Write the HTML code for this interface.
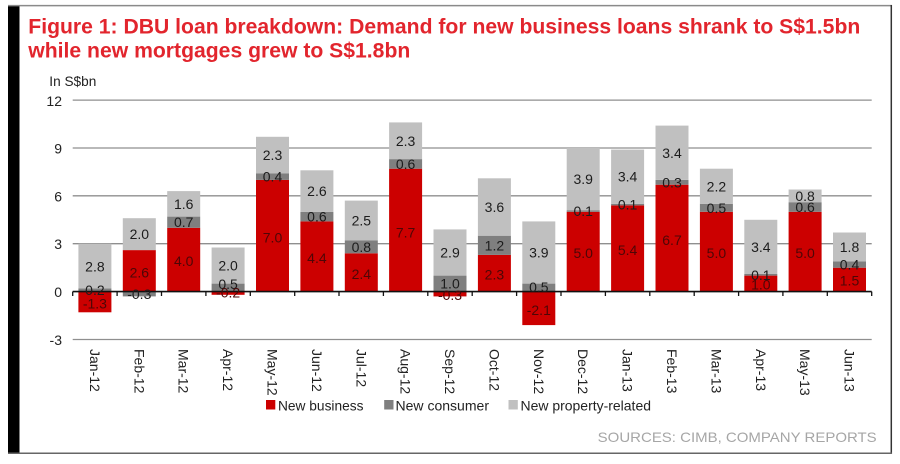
<!DOCTYPE html>
<html>
<head>
<meta charset="utf-8">
<style>
  html, body { margin: 0; padding: 0; background: #fff; }
  body { width: 900px; height: 464px; overflow: hidden; }
  svg { display: block; }
  text { font-family: "Liberation Sans", Arial, sans-serif; }
</style>
</head>
<body>
<svg width="900" height="464" viewBox="0 0 900 464" xmlns="http://www.w3.org/2000/svg">
  <rect x="0" y="0" width="900" height="464" fill="#fff"/>
  <!-- frame -->
  <rect x="8" y="5" width="11.5" height="448.5" fill="#000"/>
  <line x1="8" y1="5.6" x2="892" y2="5.6" stroke="#8a8a8a" stroke-width="1.5"/>
  <line x1="891.3" y1="5" x2="891.3" y2="454" stroke="#333" stroke-width="1.5"/>
  <line x1="8" y1="453.3" x2="892" y2="453.3" stroke="#666" stroke-width="1.5"/>

  <!-- title -->
  <text x="28.3" y="33.3" font-size="21" font-weight="bold" fill="#e2252d" textLength="832" lengthAdjust="spacingAndGlyphs">Figure 1: DBU loan breakdown: Demand for new business loans shrank to S$1.5bn</text>
  <text x="28.3" y="57.3" font-size="21" font-weight="bold" fill="#e2252d" textLength="382" lengthAdjust="spacingAndGlyphs">while new mortgages grew to S$1.8bn</text>

  <text x="49.3" y="86" font-size="13.5" fill="#222" textLength="47" lengthAdjust="spacingAndGlyphs">In S$bn</text>

  <!-- gridlines -->
  <g stroke="#8f8f8f" stroke-width="1.3">
    <line x1="72.7" y1="100.1" x2="871.7" y2="100.1"/>
    <line x1="72.7" y1="148.0" x2="871.7" y2="148.0"/>
    <line x1="72.7" y1="195.8" x2="871.7" y2="195.8"/>
    <line x1="72.7" y1="243.7" x2="871.7" y2="243.7"/>
    <line x1="72.7" y1="339.5" x2="871.7" y2="339.5"/>
  </g>

  <!-- y labels -->
  <g font-size="14" fill="#222" text-anchor="end">
    <text x="62" y="106">12</text>
    <text x="62" y="153.5">9</text>
    <text x="62" y="201.3">6</text>
    <text x="62" y="249.2">3</text>
    <text x="62" y="297">0</text>
    <text x="62" y="345">-3</text>
  </g>

  <!-- bars -->
  <g>
    <!-- Jan-12 -->
    <rect x="78.4" y="291.6" width="33" height="20.7" fill="#cc0000"/>
    <rect x="78.4" y="288.4" width="33" height="3.2" fill="#7f7f7f"/>
    <rect x="78.4" y="243.7" width="33" height="44.7" fill="#c0c0c0"/>
    <!-- Feb-12 -->
    <rect x="122.8" y="250.1" width="33" height="41.5" fill="#cc0000"/>
    <rect x="122.8" y="291.6" width="33" height="4.8" fill="#7f7f7f"/>
    <rect x="122.8" y="218.2" width="33" height="31.9" fill="#c0c0c0"/>
    <!-- Mar-12 -->
    <rect x="167.2" y="227.8" width="33" height="63.8" fill="#cc0000"/>
    <rect x="167.2" y="216.6" width="33" height="11.2" fill="#7f7f7f"/>
    <rect x="167.2" y="191.1" width="33" height="25.5" fill="#c0c0c0"/>
    <!-- Apr-12 -->
    <rect x="211.6" y="291.6" width="33" height="3.2" fill="#cc0000"/>
    <rect x="211.6" y="283.6" width="33" height="8.0" fill="#7f7f7f"/>
    <rect x="211.6" y="247.5" width="33" height="36.1" fill="#c0c0c0"/>
    <!-- May-12 -->
    <rect x="256.0" y="179.9" width="33" height="111.7" fill="#cc0000"/>
    <rect x="256.0" y="173.5" width="33" height="6.4" fill="#7f7f7f"/>
    <rect x="256.0" y="136.8" width="33" height="36.7" fill="#c0c0c0"/>
    <!-- Jun-12 -->
    <rect x="300.4" y="221.4" width="33" height="70.2" fill="#cc0000"/>
    <rect x="300.4" y="211.8" width="33" height="9.6" fill="#7f7f7f"/>
    <rect x="300.4" y="170.3" width="33" height="41.5" fill="#c0c0c0"/>
    <!-- Jul-12 -->
    <rect x="344.8" y="253.3" width="33" height="38.3" fill="#cc0000"/>
    <rect x="344.8" y="240.5" width="33" height="12.8" fill="#7f7f7f"/>
    <rect x="344.8" y="200.6" width="33" height="39.9" fill="#c0c0c0"/>
    <!-- Aug-12 -->
    <rect x="389.1" y="168.7" width="33" height="122.9" fill="#cc0000"/>
    <rect x="389.1" y="159.1" width="33" height="9.6" fill="#7f7f7f"/>
    <rect x="389.1" y="122.4" width="33" height="36.7" fill="#c0c0c0"/>
    <!-- Sep-12 -->
    <rect x="433.5" y="291.6" width="33" height="4.8" fill="#cc0000"/>
    <rect x="433.5" y="275.6" width="33" height="16.0" fill="#7f7f7f"/>
    <rect x="433.5" y="229.4" width="33" height="46.2" fill="#c0c0c0"/>
    <!-- Oct-12 -->
    <rect x="477.9" y="254.9" width="33" height="36.7" fill="#cc0000"/>
    <rect x="477.9" y="235.7" width="33" height="19.2" fill="#7f7f7f"/>
    <rect x="477.9" y="178.3" width="33" height="57.4" fill="#c0c0c0"/>
    <!-- Nov-12 -->
    <rect x="522.3" y="291.6" width="33" height="33.5" fill="#cc0000"/>
    <rect x="522.3" y="283.6" width="33" height="8.0" fill="#7f7f7f"/>
    <rect x="522.3" y="221.4" width="33" height="62.2" fill="#c0c0c0"/>
    <!-- Dec-12 -->
    <rect x="566.7" y="211.8" width="33" height="79.8" fill="#cc0000"/>
    <rect x="566.7" y="210.2" width="33" height="1.6" fill="#7f7f7f"/>
    <rect x="566.7" y="148.0" width="33" height="62.2" fill="#c0c0c0"/>
    <!-- Jan-13 -->
    <rect x="611.1" y="205.4" width="33" height="86.2" fill="#cc0000"/>
    <rect x="611.1" y="203.8" width="33" height="1.6" fill="#7f7f7f"/>
    <rect x="611.1" y="149.6" width="33" height="54.2" fill="#c0c0c0"/>
    <!-- Feb-13 -->
    <rect x="655.5" y="184.7" width="33" height="106.9" fill="#cc0000"/>
    <rect x="655.5" y="179.9" width="33" height="4.8" fill="#7f7f7f"/>
    <rect x="655.5" y="125.6" width="33" height="54.3" fill="#c0c0c0"/>
    <!-- Mar-13 -->
    <rect x="699.9" y="211.8" width="33" height="79.8" fill="#cc0000"/>
    <rect x="699.9" y="203.8" width="33" height="8.0" fill="#7f7f7f"/>
    <rect x="699.9" y="168.7" width="33" height="35.1" fill="#c0c0c0"/>
    <!-- Apr-13 -->
    <rect x="744.3" y="275.6" width="33" height="16.0" fill="#cc0000"/>
    <rect x="744.3" y="274.0" width="33" height="1.6" fill="#7f7f7f"/>
    <rect x="744.3" y="219.8" width="33" height="54.2" fill="#c0c0c0"/>
    <!-- May-13 -->
    <rect x="788.6" y="211.8" width="33" height="79.8" fill="#cc0000"/>
    <rect x="788.6" y="202.2" width="33" height="9.6" fill="#7f7f7f"/>
    <rect x="788.6" y="189.5" width="33" height="12.7" fill="#c0c0c0"/>
    <!-- Jun-13 -->
    <rect x="833.0" y="267.7" width="33" height="23.9" fill="#cc0000"/>
    <rect x="833.0" y="261.3" width="33" height="6.4" fill="#7f7f7f"/>
    <rect x="833.0" y="232.5" width="33" height="28.8" fill="#c0c0c0"/>
  </g>

  <!-- zero axis and ticks -->
  <line x1="72.7" y1="291.6" x2="871.7" y2="291.6" stroke="#111" stroke-width="1.6"/>
  <g stroke="#111" stroke-width="1.3">
    <line x1="72.7" y1="291.6" x2="72.7" y2="296"/>
    <line x1="117.1" y1="291.6" x2="117.1" y2="296"/>
    <line x1="161.5" y1="291.6" x2="161.5" y2="296"/>
    <line x1="205.9" y1="291.6" x2="205.9" y2="296"/>
    <line x1="250.3" y1="291.6" x2="250.3" y2="296"/>
    <line x1="294.7" y1="291.6" x2="294.7" y2="296"/>
    <line x1="339.0" y1="291.6" x2="339.0" y2="296"/>
    <line x1="383.4" y1="291.6" x2="383.4" y2="296"/>
    <line x1="427.8" y1="291.6" x2="427.8" y2="296"/>
    <line x1="472.2" y1="291.6" x2="472.2" y2="296"/>
    <line x1="516.6" y1="291.6" x2="516.6" y2="296"/>
    <line x1="561.0" y1="291.6" x2="561.0" y2="296"/>
    <line x1="605.4" y1="291.6" x2="605.4" y2="296"/>
    <line x1="649.8" y1="291.6" x2="649.8" y2="296"/>
    <line x1="694.2" y1="291.6" x2="694.2" y2="296"/>
    <line x1="738.6" y1="291.6" x2="738.6" y2="296"/>
    <line x1="782.9" y1="291.6" x2="782.9" y2="296"/>
    <line x1="827.3" y1="291.6" x2="827.3" y2="296"/>
    <line x1="871.7" y1="291.6" x2="871.7" y2="296"/>
  </g>

  <!-- data labels: gray segments -->
  <g font-size="14" fill="#1c1c1c" text-anchor="middle">
    <text x="94.9" y="271.6">2.8</text>
    <text x="94.9" y="295">0.2</text>
    <text x="139.3" y="239.1">2.0</text>
    <text x="139.3" y="299">-0.3</text>
    <text x="183.7" y="208.8">1.6</text>
    <text x="183.7" y="227.2">0.7</text>
    <text x="228.1" y="270.5">2.0</text>
    <text x="228.1" y="289">0.5</text>
    <text x="272.5" y="160.1">2.3</text>
    <text x="272.5" y="181.7">0.4</text>
    <text x="316.9" y="196.1">2.6</text>
    <text x="316.9" y="221.6">0.6</text>
    <text x="361.3" y="225.6">2.5</text>
    <text x="361.3" y="251.9">0.8</text>
    <text x="405.6" y="145.8">2.3</text>
    <text x="405.6" y="168.9">0.6</text>
    <text x="450.0" y="257.5">2.9</text>
    <text x="450.0" y="288.6">1.0</text>
    <text x="494.4" y="212">3.6</text>
    <text x="494.4" y="250.3">1.2</text>
    <text x="538.8" y="257.5">3.9</text>
    <text x="538.8" y="292.2">0.5</text>
    <text x="583.2" y="184.1">3.9</text>
    <text x="583.2" y="216">0.1</text>
    <text x="627.6" y="181.7">3.4</text>
    <text x="627.6" y="209.6">0.1</text>
    <text x="672.0" y="157.8">3.4</text>
    <text x="672.0" y="187.3">0.3</text>
    <text x="716.4" y="191.3">2.2</text>
    <text x="716.4" y="212.8">0.5</text>
    <text x="760.8" y="251.9">3.4</text>
    <text x="760.8" y="279.8">0.1</text>
    <text x="805.1" y="200.8">0.8</text>
    <text x="805.1" y="212">0.6</text>
    <text x="849.5" y="251.9">1.8</text>
    <text x="849.5" y="269.5">0.4</text>
  </g>
  <!-- data labels: red segments -->
  <g font-size="14" fill="#4e0606" text-anchor="middle">
    <text x="94.9" y="308.5">-1.3</text>
    <text x="139.3" y="277.4">2.6</text>
    <text x="183.7" y="266.2">4.0</text>
    <text x="228.1" y="297.5">-0.2</text>
    <text x="272.5" y="242.7">7.0</text>
    <text x="316.9" y="263">4.4</text>
    <text x="361.3" y="278.9">2.4</text>
    <text x="405.6" y="237.7">7.7</text>
    <text x="450.0" y="300">-0.3</text>
    <text x="494.4" y="279.7">2.3</text>
    <text x="538.8" y="314.9">-2.1</text>
    <text x="583.2" y="258.2">5.0</text>
    <text x="627.6" y="255">5.4</text>
    <text x="672.0" y="245.1">6.7</text>
    <text x="716.4" y="258.2">5.0</text>
    <text x="760.8" y="289.6">1.0</text>
    <text x="805.1" y="258.2">5.0</text>
    <text x="849.5" y="285.6">1.5</text>
  </g>

  <!-- x labels rotated -->
  <g font-size="14" fill="#222">
    <text transform="translate(89.9,349) rotate(90)">Jan-12</text>
    <text transform="translate(134.3,349) rotate(90)">Feb-12</text>
    <text transform="translate(178.7,349) rotate(90)">Mar-12</text>
    <text transform="translate(223.1,349) rotate(90)">Apr-12</text>
    <text transform="translate(267.5,349) rotate(90)">May-12</text>
    <text transform="translate(311.9,349) rotate(90)">Jun-12</text>
    <text transform="translate(356.3,349) rotate(90)">Jul-12</text>
    <text transform="translate(400.6,349) rotate(90)">Aug-12</text>
    <text transform="translate(445.0,349) rotate(90)">Sep-12</text>
    <text transform="translate(489.4,349) rotate(90)">Oct-12</text>
    <text transform="translate(533.8,349) rotate(90)">Nov-12</text>
    <text transform="translate(578.2,349) rotate(90)">Dec-12</text>
    <text transform="translate(622.6,349) rotate(90)">Jan-13</text>
    <text transform="translate(667.0,349) rotate(90)">Feb-13</text>
    <text transform="translate(711.4,349) rotate(90)">Mar-13</text>
    <text transform="translate(755.8,349) rotate(90)">Apr-13</text>
    <text transform="translate(800.1,349) rotate(90)">May-13</text>
    <text transform="translate(844.5,349) rotate(90)">Jun-13</text>
  </g>

  <!-- legend -->
  <rect x="266" y="400" width="9.3" height="9.5" fill="#cc0000"/>
  <text x="278" y="410.5" font-size="14" fill="#222" textLength="85.5" lengthAdjust="spacingAndGlyphs">New business</text>
  <rect x="384.2" y="400" width="9.3" height="9.5" fill="#7f7f7f"/>
  <text x="395.5" y="410.5" font-size="14" fill="#222" textLength="93.5" lengthAdjust="spacingAndGlyphs">New consumer</text>
  <rect x="508.5" y="400" width="9.3" height="9.5" fill="#c0c0c0"/>
  <text x="520.5" y="410.5" font-size="14" fill="#222" textLength="130.5" lengthAdjust="spacingAndGlyphs">New property-related</text>

  <!-- sources -->
  <text x="597.7" y="441.8" font-size="14" fill="#a6a6a6" textLength="279" lengthAdjust="spacingAndGlyphs">SOURCES: CIMB, COMPANY REPORTS</text>
</svg>
</body>
</html>
